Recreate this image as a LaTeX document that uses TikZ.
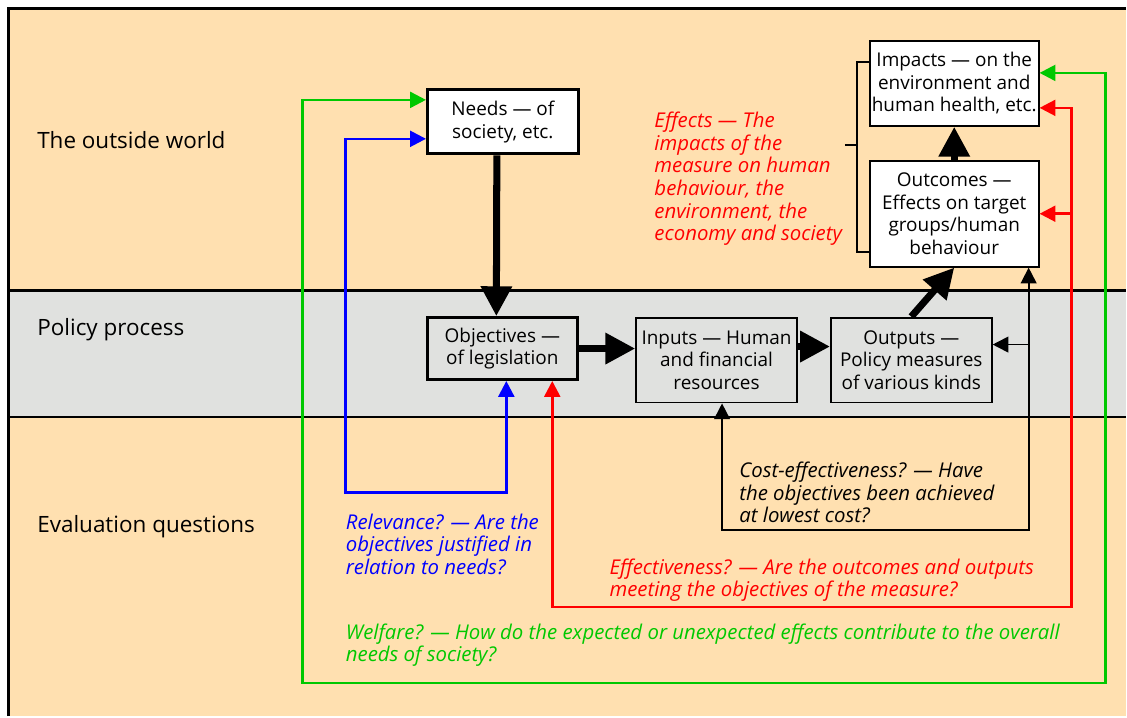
\documentclass[tikz,border=0pt]{standalone}
\usepackage{fontspec}
\setmainfont{Open Sans}
\usetikzlibrary{arrows.meta}

\definecolor{world}{RGB}{255,224,176}
\definecolor{policy}{RGB}{224,225,223}
\definecolor{welfaregreen}{RGB}{0,200,0}
\definecolor{effectred}{RGB}{255,0,0}
\definecolor{relevanceblue}{RGB}{0,0,255}

\begin{document}
\begin{tikzpicture}
	[
		x=0.02cm, y=-0.02cm,
		>={Triangle[length=9pt, width=9pt]},
		stage/.style={draw=black, line width=1.1pt, fill=policy, align=center, inner sep=0pt,
			font=\fontsize{10.8}{12.8}\selectfont},
		strong/.style={stage, line width=1.7pt},
		result/.style={stage, fill=white},
		question/.style={anchor=west, align=left, inner sep=0pt,
			font=\fontsize{11.6}{12.9}\selectfont\itshape},
		band/.style={anchor=west, inner sep=0pt, font=\fontsize{12.8}{15}\selectfont},
		flow/.style={line width=4pt, -{Triangle[length=17pt, width=17pt]}},
		feed/.style={line width=1pt},
		colourfeed/.style={line width=1.45pt}
	]

	% backgrounds
	\fill [white] (0,0) rectangle (1127,717);
	\fill [world] (8.5,8.5) rectangle (1127,717);
	\fill [policy] (8.5,290.5) rectangle (1127,417.5);
	\draw [line width=1.7pt] (1127,290.5) -- (8.5,290.5);
	\draw [line width=0.9pt] (1127,417.5) -- (8.5,417.5);
	\draw [line width=1.7pt] (8.5,717) -- (8.5,8.5) -- (1127,8.5);

	\node (world)      at (37,140) [band] {The outside world};
	\node (process)    at (37,330) [band] {Policy process};
	\node (evaluation) at (37,527) [band] {Evaluation questions};

	\node (needs)      at (503.5,122)   [strong, fill=white, minimum width=3.02cm, minimum height=1.28cm] {Needs — of\\society, etc.};
	\node (objectives) at (503,349)     [strong, minimum width=3cm, minimum height=1.24cm] {Objectives —\\of legislation};
	\node (inputs)     at (717.5,360.5) [stage, minimum width=3.22cm, minimum height=1.7cm] {Inputs — Human\\and financial\\resources};
	\node (outputs)    at (912.5,360.5) [stage, minimum width=3.22cm, minimum height=1.7cm] {Outputs —\\Policy measures\\of various kinds};
	\node (impacts)    at (955.5,83.5)  [result, minimum width=3.38cm, minimum height=1.7cm] {Impacts — on the\\environment and\\human health, etc.};
	\node (outcomes)   at (955.5,214)   [result, minimum width=3.38cm, minimum height=2.12cm] {Outcomes —\\Effects on target\\groups/human\\behaviour};

	\node (effects)       at (655,179) [question, text=effectred] {Effects — The\\impacts of the\\measure on human\\behaviour, the\\environment, the\\economy and society};
	\node (cost)          at (740,493) [question] {Cost-effectiveness? — Have\\the objectives been achieved\\at lowest cost?};
	\node (relevance)     at (346,545) [question, text=relevanceblue] {Relevance? — Are the\\objectives justified in\\relation to needs?};
	\node (effectiveness) at (610,581) [question, text=effectred] {Effectiveness? — Are the outcomes and outputs\\meeting the objectives of the measure?};
	\node (welfare)       at (346,646) [question, text=welfaregreen] {Welfare? — How do the expected or unexpected effects contribute to the overall\\needs of society?};

	\coordinate (brace)      at (858,145);
	\coordinate (bracetip)   at (846,145);
	\coordinate (costcorner) at (1030,531);
	\coordinate (outputsin)  at ([yshift=0.31cm]outputs.east);
	\coordinate (relcorner)  at (346,493);
	\coordinate (effcorner)  at (1073,608);
	\coordinate (welleft)    at (303,684);
	\coordinate (welright)   at (1107,684);

	\draw [flow] ([xshift=-0.12cm]needs.south) -- ([xshift=-0.12cm]objectives.north);
	\draw [flow] (objectives.east) -- (objectives.east -| inputs.west);
	\draw [flow] ([yshift=0.27cm]inputs.east) -- ([yshift=0.27cm]outputs.west);
	\draw [flow] (outputs.north) -- (outcomes.south);
	\draw [flow] (outcomes.north) -- (impacts.south);

	\draw [feed] ([yshift=0.43cm]impacts.west) -| (brace) |- ([yshift=-0.76cm]outcomes.west);
	\draw [feed] (bracetip) -- (brace);

	\draw [feed, <->] ([xshift=0.11cm]inputs.south) |- (costcorner) -- (costcorner |- outcomes.south);
	\draw [feed, ->] (costcorner |- outputsin) -- (outputsin);

	\draw [colourfeed, relevanceblue, <->] ([xshift=0.08cm]objectives.south) |- (relcorner) |- ([yshift=-0.34cm]needs.west);

	\draw [colourfeed, effectred, <->] ([xshift=1cm]objectives.south) |- (effcorner) |- ([yshift=-0.49cm]impacts.east);
	\draw [colourfeed, effectred, ->] (effcorner |- outcomes.east) -- (outcomes.east);

	\draw [colourfeed, welfaregreen, <->] ([yshift=0.44cm]needs.west) -| (welleft) -- (welright) |- ([yshift=0.21cm]impacts.east);
\end{tikzpicture}
\end{document}
